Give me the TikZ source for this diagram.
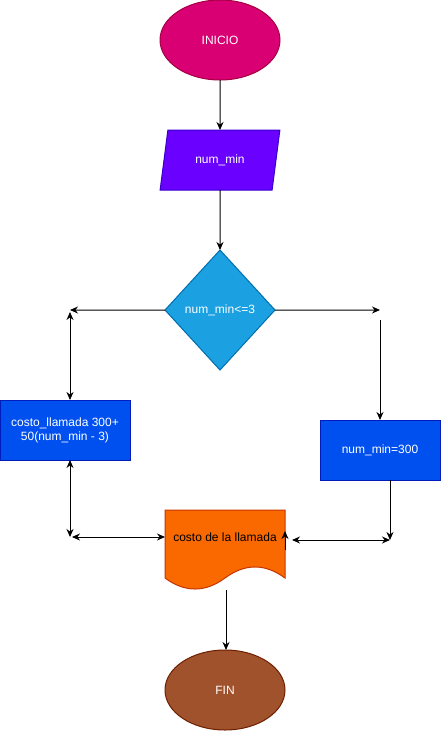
\documentclass[tikz,border=0pt]{standalone}
\usepackage{fontspec}
\setmainfont{Liberation Sans}
\usetikzlibrary{positioning, arrows.meta, shapes.geometric, calc}
\definecolor{iniciofill}{HTML}{D80073}
\definecolor{iniciodraw}{HTML}{A50040}
\definecolor{numfill}{HTML}{6A00FF}
\definecolor{numdraw}{HTML}{3700CC}
\definecolor{decfill}{HTML}{1BA1E2}
\definecolor{decdraw}{HTML}{006EAF}
\definecolor{procfill}{HTML}{0050EF}
\definecolor{procdraw}{HTML}{001DBC}
\definecolor{docfill}{HTML}{FA6800}
\definecolor{docdraw}{HTML}{C73500}
\definecolor{finfill}{HTML}{A0522D}
\definecolor{findraw}{HTML}{6D1F00}
\tikzset{
  base/.style={font=\fontsize{12}{14}\selectfont, inner sep=0pt, outer sep=0pt, line width=1pt, text=white},
  term/.style={base, ellipse, minimum width=120pt, minimum height=80pt},
  entrada/.style={base, trapezium, trapezium stretches=true, trapezium left angle=71.6,
    trapezium right angle=108.4, minimum width=120pt, minimum height=60pt, fill=numfill, draw=numdraw},
  decision/.style={base, diamond, aspect=0.9167, minimum width=110pt, minimum height=120pt, fill=decfill, draw=decdraw},
  proceso/.style={base, rectangle, align=center, fill=procfill, draw=procdraw},
}
\begin{document}
\begin{tikzpicture}[>={Stealth[length=8pt,width=7pt]}, x=1pt, y=1pt, line width=1pt]
  \useasboundingbox (0,0) rectangle (441,-731);
  \node (ini) [term, fill=iniciofill, draw=iniciodraw] at (220,-40) {INICIO};
  \node (num) [entrada, below=50pt of ini] {num\_min};
  \node (dec) [decision, below=60pt of num] {num\_min<=3};
  \node (izq) [proceso, minimum width=130pt, minimum height=60pt] at (65,-430)
    {costo\_llamada 300+\\50(num\_min - 3)};
  \node (der) [proceso, minimum width=120pt, minimum height=60pt] at (380,-450) {num\_min=300};
  % documento
  \draw[fill=docfill, draw=docdraw, line width=1pt] (165,-510) -- (285,-510) -- (285,-578)
    .. controls (265,-563.3) and (245,-563.3) .. (225,-578)
    .. controls (205,-592.7) and (185,-592.7) .. (165,-578) -- cycle;
  \node (doc) [base, text=black, minimum width=120pt, minimum height=54pt] at (225,-537) {costo de la llamada};
  \node (fin) [term, fill=finfill, draw=findraw] at (225,-690) {FIN};
  \coordinate (lt) at (70,-310);
  \coordinate (lb) at (70,-537);
  \coordinate (rt) at (380,-310);
  \coordinate (rb) at (390,-540);
  \draw[->] (ini) -- (num);
  \draw[->] (num) -- (dec);
  \draw[->] (dec.west) -- (lt);
  \draw[<->] ([yshift=-2pt]lt) -- (lt |- izq.north);
  \draw[<->] (lt |- izq.south) -- (lb);
  \draw[<->] ([xshift=2pt]lb) -- (doc.west |- lb);
  \draw[->] (dec.east) -- (rt);
  \draw[->] ([yshift=-10pt]rt) -- (der.north);
  \draw[->] ([xshift=10pt]der.south) -- (rb);
  \draw[<->] (rb) -- ($(doc.east |- rb)+(7,0)$);
  \draw[->] ([yshift=-13pt]doc.east) -- ([yshift=6pt]doc.east);
  \draw[->] (226,-590) -- (fin.north -| 226,0);
\end{tikzpicture}
\end{document}
